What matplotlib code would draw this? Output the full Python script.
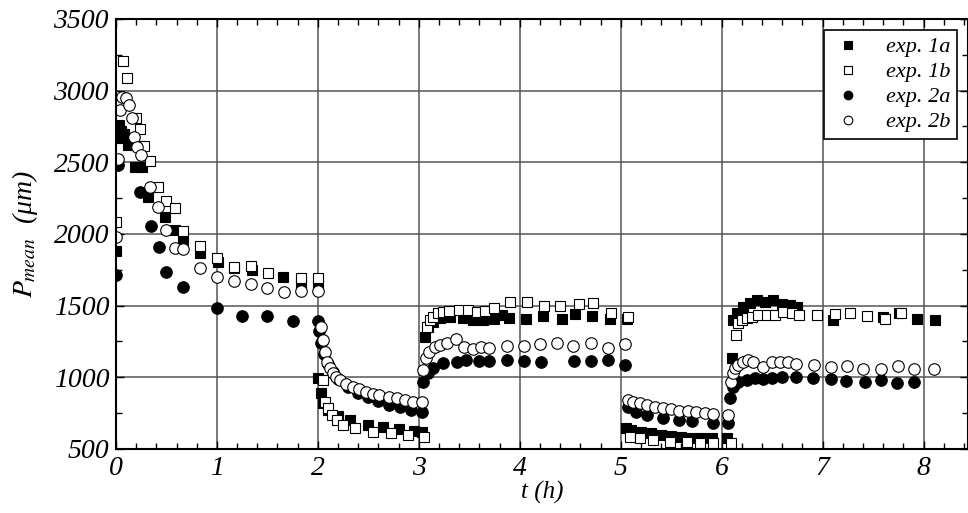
import matplotlib
matplotlib.use('Agg')
import matplotlib.pyplot as plt
from matplotlib.ticker import MultipleLocator, FormatStrFormatter

# Schriften: Times-aehnlich, kursiv
plt.rcParams['font.family'] = ['Liberation Serif', 'DejaVu Serif']
plt.rcParams['font.style'] = 'italic'
plt.rcParams['mathtext.fontset'] = 'stix'

# exp. 1a (gefuellte Quadrate)
t_1a = [0.0, 0.01, 0.03, 0.05, 0.08, 0.12, 0.19, 0.26, 0.32, 0.49, 0.58, 0.66, 0.83, 1.01, 1.17, 1.35, 1.65, 1.83, 2.0,
        2.0, 2.03, 2.05, 2.1, 2.2, 2.32, 2.5, 2.65, 2.8, 2.95, 3.03,
        3.06, 3.09, 3.14, 3.21, 3.31, 3.44, 3.54, 3.64, 3.74, 3.82, 3.89, 4.06, 4.23, 4.42, 4.55, 4.72, 4.89, 5.06,
        5.05, 5.1, 5.2, 5.3, 5.4, 5.5, 5.6, 5.7, 5.8, 5.9, 6.05,
        6.1, 6.11, 6.15, 6.21, 6.28, 6.35, 6.43, 6.51, 6.6, 6.68, 6.75, 7.1, 7.6, 7.76, 7.93, 8.11]
p_1a = [1881, 2670, 2760, 2720, 2700, 2620, 2467, 2467, 2258, 2118, 2028, 1958, 1868, 1805, 1763, 1750, 1700, 1658, 1658,
        995, 890, 821, 770, 730, 702, 670, 653, 640, 628, 619,
        1281, 1351, 1386, 1414, 1421, 1414, 1400, 1400, 1407, 1435, 1414, 1407, 1428, 1407, 1442, 1428, 1407, 1407,
        647, 630, 619, 608, 598, 592, 584, 580, 577, 577, 577,
        1135, 1400, 1449, 1491, 1519, 1540, 1526, 1540, 1512, 1505, 1491, 1400, 1421, 1449, 1407, 1400]

# exp. 1b (offene Quadrate)
t_1b = [0.0, 0.07, 0.11, 0.2, 0.24, 0.28, 0.34, 0.42, 0.5, 0.58, 0.66, 0.83, 1.0, 1.17, 1.34, 1.51, 1.83, 2.0,
        2.05, 2.07, 2.1, 2.14, 2.19, 2.25, 2.37, 2.55, 2.72, 2.89, 3.05,
        3.08, 3.11, 3.14, 3.19, 3.24, 3.3, 3.4, 3.49, 3.58, 3.66, 3.74, 3.9, 4.07, 4.24, 4.4, 4.59, 4.73, 4.9, 5.07,
        5.09, 5.19, 5.32, 5.49, 5.66, 5.79, 5.91, 6.09,
        6.14, 6.16, 6.2, 6.25, 6.3, 6.36, 6.45, 6.53, 6.61, 6.7, 6.77, 6.94, 7.12, 7.27, 7.44, 7.62, 7.78]
p_1b = [2084, 3207, 3089, 2809, 2733, 2614, 2509, 2328, 2230, 2181, 2021, 1916, 1833, 1770, 1777, 1728, 1693, 1693,
        981, 828, 786, 737, 702, 667, 647, 619, 612, 598, 584,
        1351, 1400, 1421, 1449, 1456, 1463, 1470, 1470, 1456, 1463, 1484, 1526, 1526, 1498, 1498, 1512, 1519, 1449, 1421,
        584, 577, 563, 549, 549, 542, 542, 542,
        1295, 1379, 1400, 1414, 1421, 1435, 1435, 1435, 1456, 1449, 1435, 1435, 1442, 1449, 1428, 1407, 1449]

# exp. 2a (gefuellte Kreise)
t_2a = [0.0, 0.02, 0.24, 0.35, 0.43, 0.5, 0.66, 1.0, 1.25, 1.5, 1.75, 2.0,
        2.01, 2.03, 2.06, 2.1, 2.15, 2.2, 2.3, 2.4, 2.5, 2.6, 2.7, 2.81, 2.92, 3.03,
        3.04, 3.09, 3.14, 3.24, 3.38, 3.47, 3.6, 3.7, 3.87, 4.04, 4.21, 4.54, 4.71, 4.87, 5.04,
        5.07, 5.15, 5.26, 5.42, 5.58, 5.71, 5.91, 6.06,
        6.08, 6.11, 6.16, 6.25, 6.33, 6.41, 6.5, 6.6, 6.74, 6.9, 7.08, 7.23, 7.42, 7.58, 7.74, 7.91]
p_2a = [1714, 2481, 2293, 2056, 1909, 1735, 1630, 1484, 1428, 1428, 1393, 1393,
        1320, 1240, 1160, 1090, 1040, 990, 930, 890, 860, 835, 810, 793, 775, 758,
        967, 1030, 1065, 1100, 1107, 1121, 1114, 1114, 1121, 1114, 1107, 1114, 1114, 1121, 1086,
        793, 760, 737, 716, 702, 695, 681, 681,
        856, 933, 967, 981, 995, 988, 995, 1002, 1002, 995, 988, 974, 967, 981, 960, 967]

# exp. 2b (offene Kreise)
t_2b = [0.0, 0.02, 0.04, 0.06, 0.1, 0.13, 0.16, 0.18, 0.21, 0.25, 0.34, 0.42, 0.5, 0.58, 0.66, 0.83, 1.0, 1.17,
        1.34, 1.5, 1.66, 1.83, 2.0,
        2.03, 2.05, 2.07, 2.09, 2.12, 2.15, 2.18, 2.22, 2.28, 2.35, 2.41, 2.48, 2.55, 2.61, 2.7, 2.78, 2.86, 2.94, 3.03,
        3.04, 3.07, 3.1, 3.16, 3.21, 3.28, 3.37, 3.45, 3.54, 3.62, 3.7, 3.87, 4.04, 4.2, 4.37, 4.53, 4.71, 4.87, 5.04,
        5.07, 5.12, 5.19, 5.26, 5.34, 5.42, 5.5, 5.58, 5.67, 5.75, 5.83, 5.91, 6.06,
        6.09, 6.11, 6.13, 6.16, 6.21, 6.26, 6.31, 6.41, 6.5, 6.58, 6.66, 6.74, 6.91, 7.08, 7.24, 7.4, 7.58, 7.75, 7.91,
        8.1]
p_2b = [1979, 2523, 2865, 2956, 2949, 2900, 2809, 2677, 2607, 2551, 2328, 2188, 2028, 1902, 1895, 1763, 1700, 1672,
        1651, 1623, 1595, 1602, 1602,
        1351, 1260, 1177, 1107, 1065, 1030, 1005, 981, 955, 933, 915, 898, 887, 877, 866, 856, 842, 828, 828,
        1051, 1135, 1177, 1212, 1226, 1240, 1267, 1212, 1198, 1212, 1205, 1219, 1219, 1233, 1240, 1219, 1240, 1205, 1233,
        842, 828, 818, 807, 796, 786, 776, 765, 762, 758, 750, 744, 737,
        967, 1030, 1065, 1086, 1107, 1121, 1107, 1072, 1107, 1107, 1107, 1093, 1086, 1072, 1079, 1058, 1058, 1079, 1058,
        1058]

fig = plt.figure(figsize=(9.68, 5.13), dpi=100)
ax = fig.add_axes([0.1198, 0.1248, 0.8802, 0.8382])

ax.plot(t_1a, p_1a, ls='none', marker='s', ms=7.0, mfc='black', mec='black', mew=0.8, label='exp. 1a')
ax.plot(t_1b, p_1b, ls='none', marker='s', ms=7.0, mfc='white', mec='black', mew=0.8, label='exp. 1b')
ax.plot(t_2a, p_2a, ls='none', marker='o', ms=8.3, mfc='black', mec='black', mew=0.8, label='exp. 2a')
ax.plot(t_2b, p_2b, ls='none', marker='o', ms=8.3, mfc='white', mec='black', mew=0.8, label='exp. 2b')

ax.set_xlim(0, 8.44)
ax.set_ylim(500, 3500)
ax.xaxis.set_major_locator(MultipleLocator(1))
ax.xaxis.set_minor_locator(MultipleLocator(0.2))
ax.yaxis.set_major_locator(MultipleLocator(500))
ax.yaxis.set_minor_locator(MultipleLocator(250))
ax.xaxis.set_major_formatter(FormatStrFormatter('%d'))
ax.yaxis.set_major_formatter(FormatStrFormatter('%d'))
ax.grid(True, which='major', color='#555555', lw=1.1)
ax.set_axisbelow(True)
ax.tick_params(which='both', direction='in', top=True, right=True, labelsize=20, pad=5)
ax.tick_params(which='major', length=6, width=1)
ax.tick_params(which='minor', length=4, width=1)
for s in ax.spines.values():
    s.set_linewidth(1.5)

ax.set_xlabel('t (h)', fontsize=18, labelpad=0)
ax.set_ylabel(r'$P_{mean}$  (μm)', fontsize=20, labelpad=10)

leg = ax.legend(loc='upper right', fontsize=16, frameon=True, fancybox=False, edgecolor='black',
                framealpha=1, borderaxespad=0.5, handletextpad=0.9, markerscale=0.75, borderpad=0.3,
                labelspacing=0.2, handlelength=1.6)
leg.get_frame().set_linewidth(1.2)

# Ticklabels kursiv
fig.canvas.draw()
for tick in ax.xaxis.get_major_ticks() + ax.yaxis.get_major_ticks():
    tick.label1.set_fontstyle('italic')
    tick.label1.set_family(['Liberation Serif'])

fig.savefig('out.png', dpi=100)
